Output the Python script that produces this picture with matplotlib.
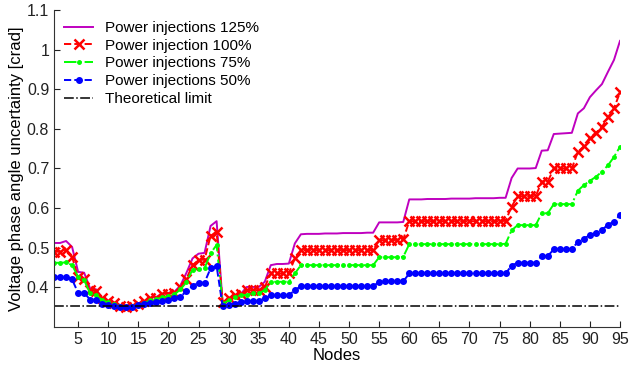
import matplotlib
matplotlib.use("Agg")
import matplotlib.pyplot as plt

plt.rcParams['font.family'] = ['Liberation Sans', 'DejaVu Sans']

nodes = list(range(1, 96))

inj_125 = [
    0.512, 0.512, 0.517, 0.502, 0.439, 0.437, 0.397, 0.395, 0.372, 0.366,
    0.362, 0.355, 0.352, 0.352, 0.358, 0.363, 0.373, 0.376, 0.384, 0.386,
    0.389, 0.405, 0.437, 0.473, 0.485, 0.487, 0.555, 0.567, 0.362, 0.372,
    0.380, 0.383, 0.401, 0.401, 0.401, 0.414, 0.456, 0.459, 0.459, 0.460,
    0.511, 0.534, 0.535, 0.535, 0.535, 0.536, 0.536, 0.536, 0.537, 0.537,
    0.537, 0.537, 0.538, 0.538, 0.564, 0.564, 0.564, 0.564, 0.565, 0.622,
    0.622, 0.622, 0.623, 0.623, 0.623, 0.623, 0.624, 0.624, 0.624, 0.624,
    0.625, 0.625, 0.625, 0.625, 0.626, 0.626, 0.676, 0.700, 0.700, 0.700,
    0.701, 0.745, 0.746, 0.787, 0.788, 0.789, 0.790, 0.839, 0.852, 0.880,
    0.897, 0.913, 0.944, 0.974, 1.022,
]

inj_100 = [
    0.490, 0.490, 0.494, 0.477, 0.425, 0.422, 0.393, 0.390, 0.372, 0.366,
    0.360, 0.352, 0.351, 0.352, 0.358, 0.365, 0.372, 0.374, 0.383, 0.384,
    0.386, 0.400, 0.422, 0.456, 0.469, 0.470, 0.530, 0.540, 0.362, 0.372,
    0.380, 0.382, 0.393, 0.393, 0.393, 0.401, 0.435, 0.435, 0.435, 0.436,
    0.473, 0.494, 0.494, 0.494, 0.494, 0.494, 0.494, 0.494, 0.494, 0.494,
    0.494, 0.494, 0.494, 0.494, 0.519, 0.519, 0.519, 0.520, 0.521, 0.567,
    0.567, 0.567, 0.567, 0.567, 0.567, 0.567, 0.567, 0.567, 0.567, 0.567,
    0.567, 0.567, 0.567, 0.567, 0.567, 0.568, 0.604, 0.630, 0.630, 0.630,
    0.630, 0.667, 0.667, 0.700, 0.700, 0.700, 0.700, 0.742, 0.756, 0.778,
    0.790, 0.805, 0.829, 0.852, 0.892,
]

inj_75 = [
    0.462, 0.462, 0.463, 0.456, 0.427, 0.418, 0.385, 0.380, 0.368, 0.362,
    0.357, 0.352, 0.351, 0.352, 0.356, 0.361, 0.367, 0.370, 0.375, 0.377,
    0.382, 0.395, 0.413, 0.445, 0.446, 0.448, 0.486, 0.507, 0.359, 0.367,
    0.375, 0.380, 0.381, 0.385, 0.385, 0.393, 0.414, 0.414, 0.414, 0.414,
    0.435, 0.456, 0.456, 0.456, 0.456, 0.456, 0.456, 0.456, 0.456, 0.456,
    0.456, 0.456, 0.456, 0.456, 0.476, 0.476, 0.476, 0.476, 0.477, 0.509,
    0.509, 0.509, 0.509, 0.509, 0.509, 0.509, 0.509, 0.509, 0.509, 0.509,
    0.509, 0.509, 0.509, 0.509, 0.509, 0.510, 0.544, 0.557, 0.557, 0.557,
    0.557, 0.587, 0.587, 0.610, 0.610, 0.610, 0.610, 0.644, 0.658, 0.669,
    0.679, 0.692, 0.708, 0.729, 0.755,
]

inj_50 = [
    0.425, 0.425, 0.425, 0.420, 0.386, 0.386, 0.369, 0.369, 0.359, 0.356,
    0.352, 0.351, 0.351, 0.351, 0.356, 0.359, 0.360, 0.364, 0.366, 0.367,
    0.372, 0.376, 0.391, 0.404, 0.411, 0.412, 0.448, 0.454, 0.352, 0.355,
    0.359, 0.363, 0.365, 0.366, 0.366, 0.372, 0.380, 0.380, 0.380, 0.380,
    0.393, 0.403, 0.403, 0.403, 0.403, 0.403, 0.403, 0.403, 0.403, 0.403,
    0.403, 0.403, 0.403, 0.403, 0.414, 0.415, 0.415, 0.415, 0.415, 0.435,
    0.435, 0.435, 0.435, 0.435, 0.435, 0.435, 0.435, 0.435, 0.435, 0.435,
    0.435, 0.435, 0.435, 0.435, 0.435, 0.435, 0.455, 0.462, 0.462, 0.462,
    0.462, 0.479, 0.479, 0.496, 0.496, 0.496, 0.496, 0.515, 0.523, 0.532,
    0.538, 0.545, 0.558, 0.566, 0.583,
]

theoretical_limit = 0.352

labels = [
    "Power injections 125%",
    "Power injection 100%",
    "Power injections 75%",
    "Power injections 50%",
    "Theoretical limit",
]

xticks = list(range(5, 100, 5))
yticks = [0.4, 0.5, 0.6, 0.7, 0.8, 0.9, 1.0, 1.1]
ytick_labels = ["0.4", "0.5", "0.6", "0.7", "0.8", "0.9", "1", "1.1"]

fig = plt.figure(figsize=(6.29, 3.66), dpi=100)
ax = fig.add_axes([0.0859, 0.1066, 0.8998, 0.8661])

ax.plot(nodes, inj_125, '-', color='#BF00BF', lw=1.4, label=labels[0])
ax.plot(nodes, inj_100, '--', color='#FF0000', lw=1.4, marker='x',
        ms=7, mew=1.8, label=labels[1])
ax.plot(nodes, inj_75, '-.', color='#00FF00', lw=1.4, marker='.',
        ms=5, label=labels[2])
ax.plot(nodes, inj_50, '--', color='#0000FF', lw=1.4, marker='.',
        ms=8, label=labels[3])
ax.plot([nodes[0], nodes[-1]], [theoretical_limit, theoretical_limit], '-.',
        color='black', lw=1.1, label=labels[4])

ax.set_xlim(1, 95)
ax.set_ylim(0.3, 1.1)
ax.set_xticks(xticks)
ax.set_yticks(yticks)
ax.set_yticklabels(ytick_labels)
ax.tick_params(direction='in', length=4, labelsize=11.5, colors='#222222',
               width=0.8)
for side in ('top', 'right'):
    ax.spines[side].set_visible(False)
for side in ('left', 'bottom'):
    ax.spines[side].set_color('#333333')
    ax.spines[side].set_linewidth(0.8)

ax.set_xlabel("Nodes", fontsize=12, labelpad=1)
ax.set_ylabel("Voltage phase angle uncertainty [crad]", fontsize=12,
              labelpad=2)

ax.legend(loc='upper left', frameon=False, fontsize=11, numpoints=1,
          handlelength=1.9, handletextpad=0.8, labelspacing=0.25,
          borderaxespad=0.0, bbox_to_anchor=(0.007, 0.985))

fig.savefig("out.png", dpi=100)
